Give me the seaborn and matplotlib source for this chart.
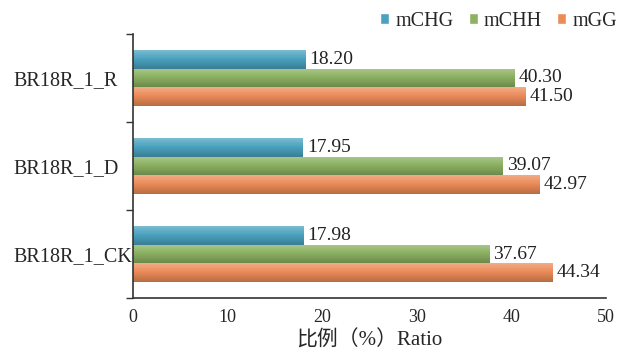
import numpy as np
import pandas as pd
import matplotlib
matplotlib.use("Agg")
import matplotlib.pyplot as plt
import matplotlib.colors as mcolors
import seaborn as sns

samples = ["BR18R_1_R", "BR18R_1_D", "BR18R_1_CK"]
types = ["mCHG", "mCHH", "mGG"]
mCHG = [18.20, 17.95, 17.98]
mCHH = [40.30, 39.07, 37.67]
mGG = [41.50, 42.97, 44.34]
x_ticks = [0, 10, 20, 30, 40, 50]
x_label = "比例（%）Ratio"
colors = ["#4aa2bf", "#8cb262", "#ec8b58"]

df = pd.DataFrame({
    "sample": samples * 3,
    "type": [types[0]] * 3 + [types[1]] * 3 + [types[2]] * 3,
    "value": mCHG + mCHH + mGG,
})

sns.set_theme(style="white")
plt.rcParams["font.family"] = ["Liberation Serif", "Noto Sans CJK SC"]

fig = plt.figure(figsize=(6.19, 3.53), dpi=100)
ax = fig.add_axes([0.2149, 0.1558, 0.979 - 0.2149, 0.9037 - 0.1558])

sns.barplot(data=df, y="sample", x="value", hue="type", order=samples,
            hue_order=types, palette=colors, orient="h", width=0.63,
            gap=0.02, saturation=1, ax=ax, legend=True)

# subtle vertical gradient on each bar (lighter top, darker bottom)
for bar in list(ax.patches):
    w = bar.get_width()
    if w <= 0:
        continue
    x0, y0, h = bar.get_x(), bar.get_y(), bar.get_height()
    base = np.array(mcolors.to_rgb(bar.get_facecolor()))
    n = 32
    t = np.linspace(0, 1, n)[:, None]
    light = base + (1 - base) * 0.28
    dark = base * 0.78
    mid = 0.45
    grad = np.where(t < mid,
                    light + (base - light) * (t / mid),
                    base + (dark - base) * ((t - mid) / (1 - mid)))
    img = np.concatenate([grad, np.ones((n, 1))], axis=1).reshape(n, 1, 4)
    im = ax.imshow(img, extent=[x0, x0 + w, y0 + h, y0], origin="upper",
                   aspect="auto", interpolation="bilinear",
                   zorder=bar.get_zorder() + 0.1)
    im.set_clip_path(bar)

for cont in ax.containers:
    ax.bar_label(cont, fmt="%.2f", padding=3, fontsize=14, color="#222222")

ax.set_xlim(0, 50)
ax.set_ylim(2.5, -0.5)
ax.set_aspect("auto")
ax.set_xticks(x_ticks)
ax.set_xticklabels([str(t) for t in x_ticks], fontsize=13)
ax.tick_params(axis="x", direction="in", length=4, width=1, color="#333333", pad=8)
ax.set_yticks(range(len(samples)))
ax.set_yticklabels(samples, fontsize=14.5, ha="left")
ax.tick_params(axis="y", which="major", length=0, pad=86)
ax.set_yticks([-0.5, 0.5, 1.5, 2.5], minor=True)
ax.tick_params(axis="y", which="minor", direction="out", length=5, width=1, color="#333333", left=True)
ax.set_ylabel("")
ax.set_xlabel(x_label, fontsize=15, labelpad=3)
for s in ["top", "right"]:
    ax.spines[s].set_visible(False)
for s in ["left", "bottom"]:
    ax.spines[s].set_color("#333333")
    ax.spines[s].set_linewidth(1.2)

handles, labels = ax.get_legend_handles_labels()
ax.legend(handles, labels, loc="upper right", bbox_to_anchor=(1.016, 1.0),
          bbox_transform=fig.transFigure, ncol=3, frameon=False, fontsize=14.5,
          handlelength=0.45, handleheight=0.45, handletextpad=0.3,
          columnspacing=0.75, borderaxespad=0.2)

fig.savefig("out.png", dpi=100, facecolor="white")
